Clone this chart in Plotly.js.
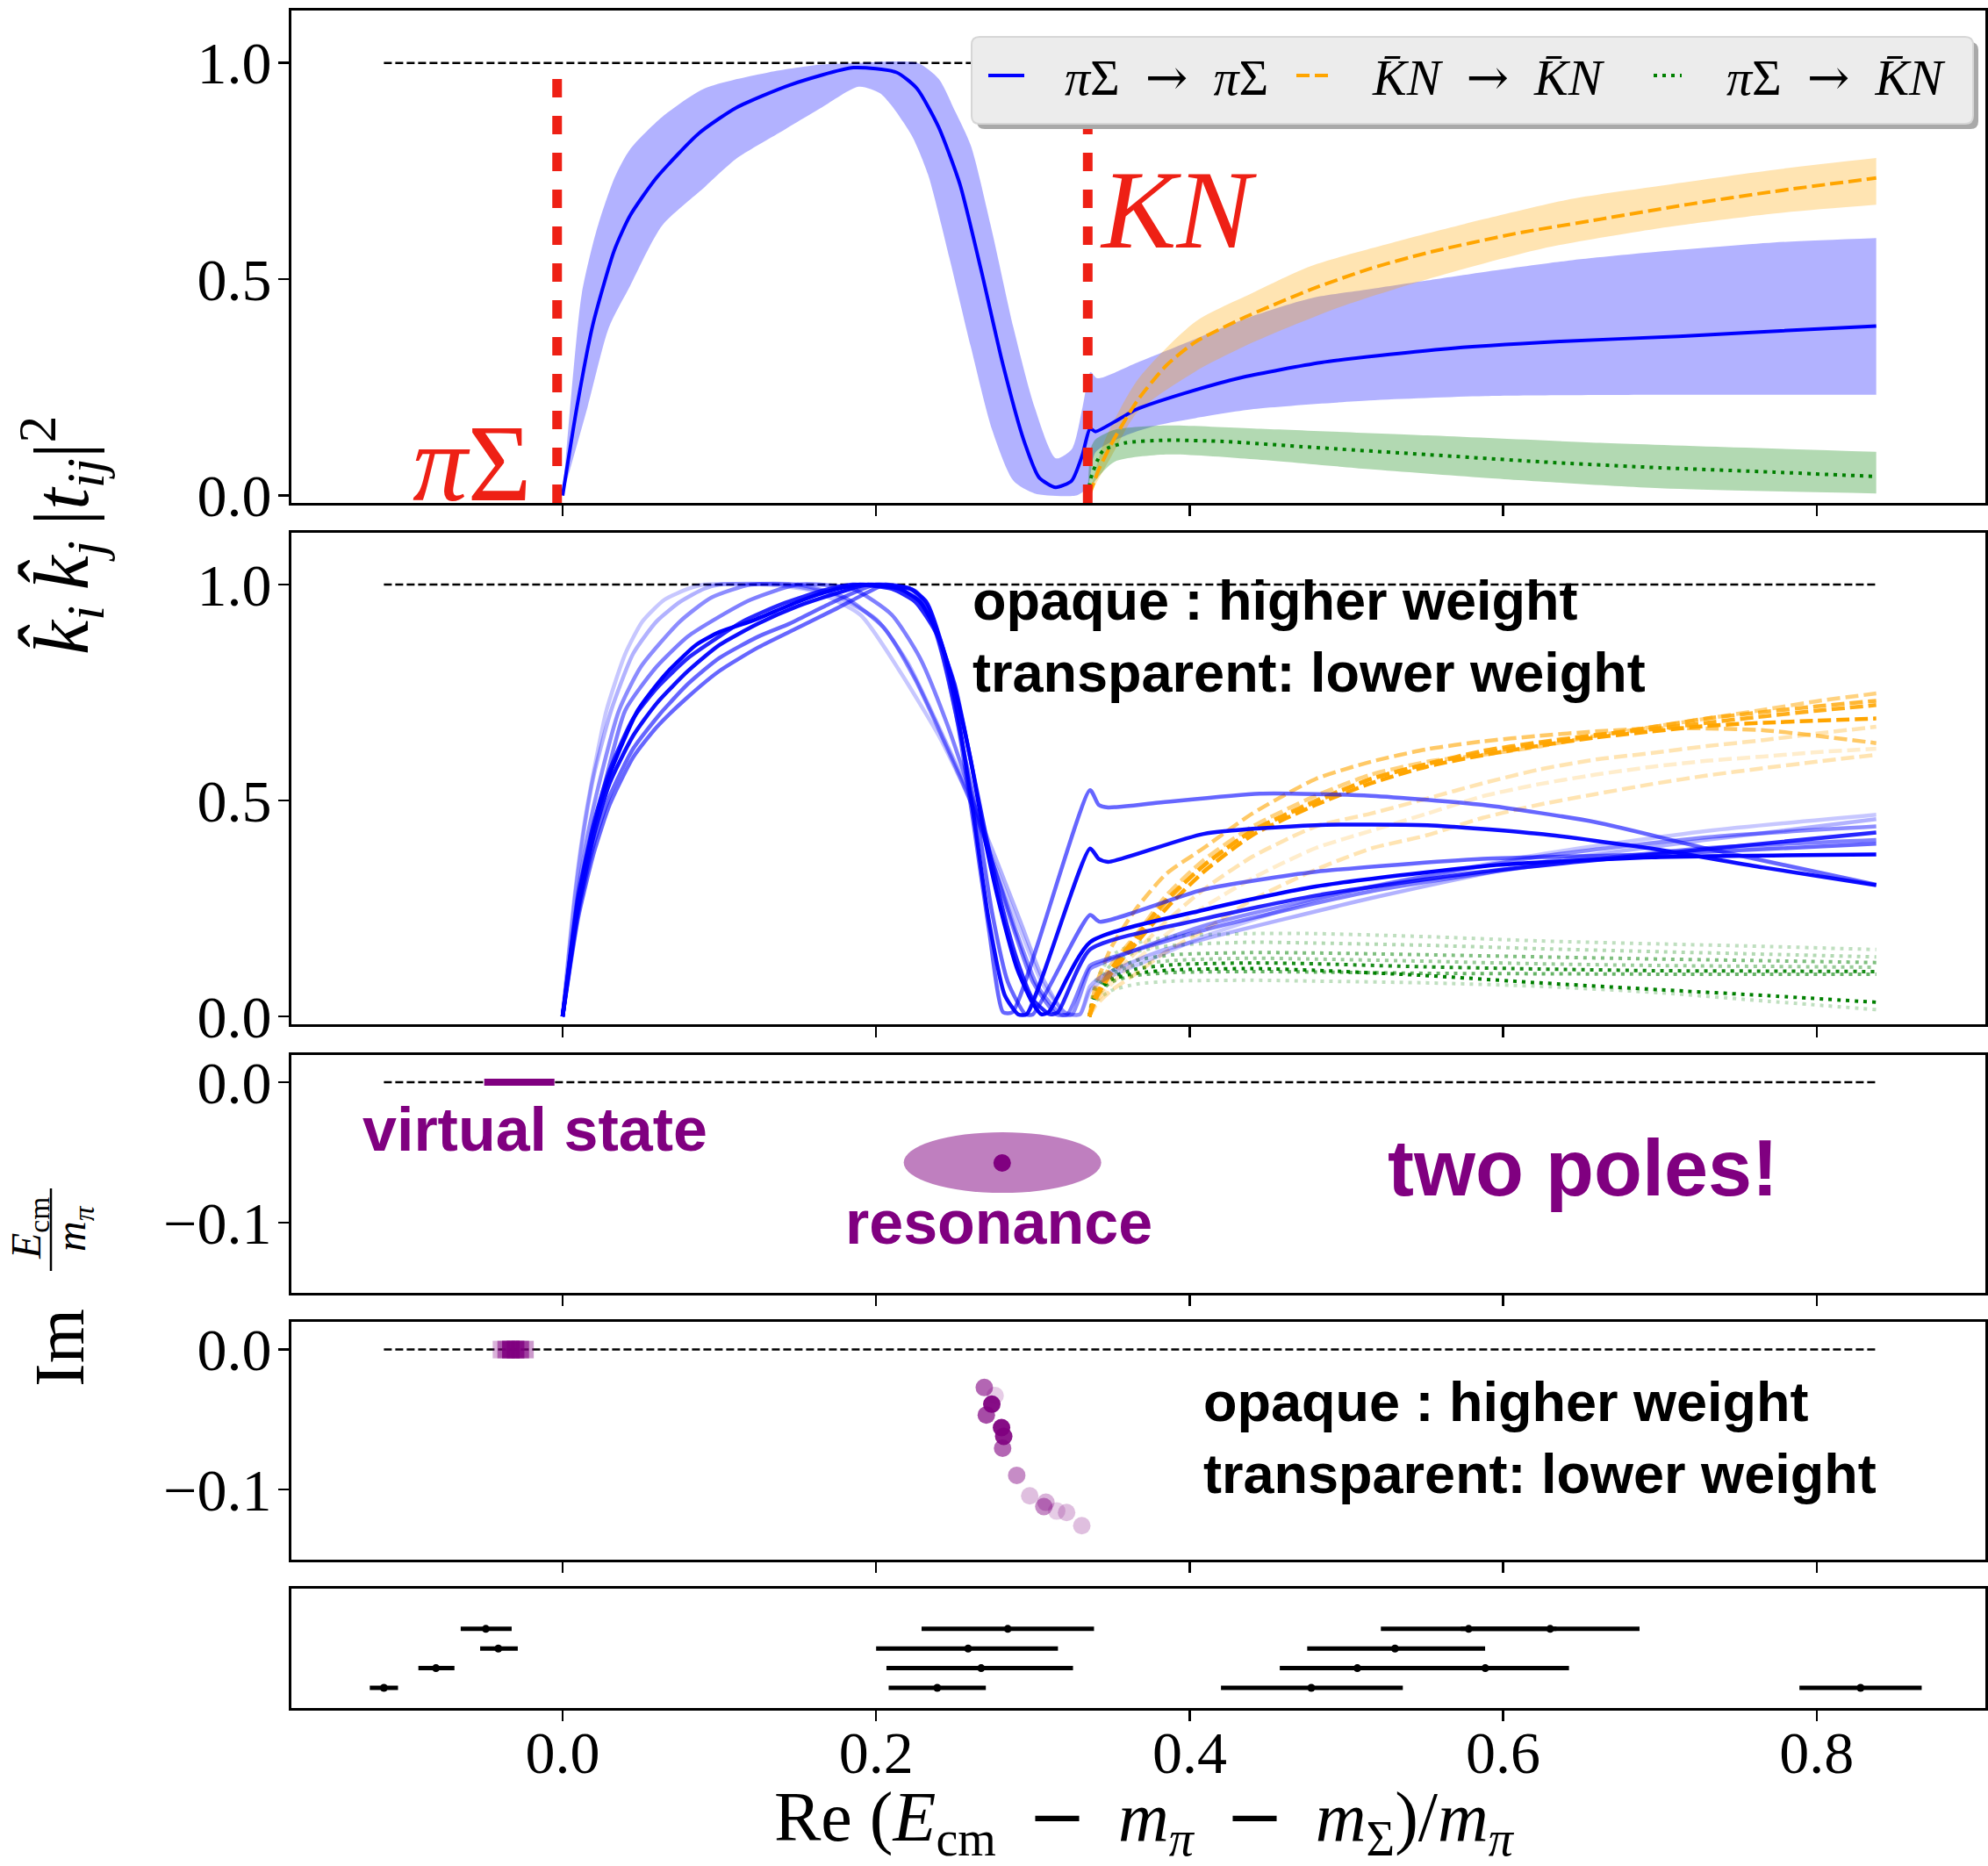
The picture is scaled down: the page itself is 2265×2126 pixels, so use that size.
<!DOCTYPE html>
<html><head><meta charset="utf-8">
<script src="https://cdn.plot.ly/plotly-3.0.1.min.js"></script>
<style>html,body{margin:0;padding:0;background:#fff}</style>
</head><body><div id="chart" style="width:2265px;height:2126px"></div>
<script>
// ---------------- DATA ----------------
const xRange = [-0.17301, 0.90762];
const xTicks = [0, 0.2, 0.4, 0.6, 0.8];
const refX = [-0.114, 0.838];

// Panel 1: central curves
const p1BlueX = [0,0.0091,0.0193,0.0329,0.043,0.060,0.0872,0.111,0.145,0.1856,0.213,0.226,0.2397,0.2534,0.267,0.2806,0.294,0.304,0.3145,0.3247,0.3315,0.3365,0.340,0.366,0.397,0.4345,0.484,0.560,0.636,0.712,0.769,0.838];
const p1BlueY = [0,0.204,0.395,0.566,0.647,0.735,0.838,0.897,0.949,0.989,0.978,0.941,0.853,0.72,0.521,0.307,0.130,0.0416,0.019,0.034,0.093,0.155,0.148,0.199,0.2367,0.274,0.3076,0.338,0.356,0.368,0.379,0.392];
const p1BlueUpX = [0,0.0057,0.0122,0.0214,0.0332,0.043,0.0635,0.0906,0.1314,0.1653,0.19,0.2264,0.240,0.2502,0.2604,0.274,0.2876,0.3011,0.3147,0.3249,0.3317,0.3368,0.341,0.3667,0.4037,0.441,0.4776,0.5146,0.5515,0.5885,0.644,0.70,0.773,0.838];
const p1BlueUpY = [0,0.24,0.466,0.61,0.735,0.80,0.875,0.941,0.978,0.996,1.0,1.0,0.963,0.89,0.809,0.61,0.388,0.204,0.086,0.108,0.204,0.285,0.271,0.3077,0.362,0.416,0.4564,0.4767,0.497,0.517,0.544,0.564,0.585,0.595];
const p1BlueLoX = [0,0.0159,0.0295,0.043,0.0635,0.0906,0.111,0.138,0.1653,0.189,0.2025,0.2093,0.2229,0.2331,0.2467,0.2604,0.274,0.2876,0.3011,0.3283,0.335,0.34,0.36,0.38,0.4037,0.441,0.5146,0.5885,0.70,0.838];
const p1BlueLoY = [0,0.204,0.388,0.484,0.624,0.713,0.779,0.838,0.897,0.945,0.930,0.904,0.831,0.742,0.55,0.344,0.152,0.034,0.005,0.001,0.02,0.10,0.14,0.163,0.179,0.20,0.2197,0.2299,0.233,0.233];

const p1OrangeX = [0.336,0.342,0.352,0.3667,0.3852,0.4037,0.4333,0.4776,0.5146,0.5515,0.607,0.6624,0.718,0.773,0.838];
const p1OrangeY = [0,0.06,0.132,0.2197,0.301,0.355,0.409,0.4767,0.524,0.561,0.605,0.639,0.673,0.703,0.734];
const p1OrangeUpX = [0.336,0.345,0.3667,0.4037,0.441,0.4776,0.533,0.588,0.644,0.70,0.773,0.838];
const p1OrangeUpY = [0,0.12,0.267,0.402,0.47,0.5307,0.588,0.639,0.686,0.716,0.753,0.780];
const p1OrangeLoX = [0.336,0.35,0.3667,0.4037,0.441,0.496,0.5515,0.625,0.70,0.773,0.838];
const p1OrangeLoY = [0,0.09,0.193,0.287,0.355,0.436,0.50,0.571,0.618,0.652,0.672];

const p1GreenX = [0.335,0.337,0.341,0.345,0.359,0.385,0.422,0.4776,0.5515,0.625,0.70,0.773,0.838];
const p1GreenY = [0,0.04,0.08,0.105,0.122,0.128,0.125,0.1116,0.0947,0.0778,0.0643,0.0541,0.044];
const p1GreenUpX = [0.335,0.337,0.34,0.352,0.385,0.441,0.5515,0.662,0.838];
const p1GreenUpY = [0,0.11,0.13,0.152,0.162,0.155,0.139,0.122,0.101];
const p1GreenLoX = [0.335,0.34,0.352,0.385,0.441,0.5146,0.5885,0.70,0.838];
const p1GreenLoY = [0,0.035,0.078,0.095,0.084,0.061,0.041,0.017,0.005];

// Panel 2: individual fits (weight -> opacity)
const p2BlueAlpha = [0.22, 0.3, 0.45, 0.5, 0.6, 0.6, 0.85, 0.95, 1.0];
const p2BlueXs = [
 [0,0.004,0.008,0.014,0.02,0.028,0.04,0.051,0.065,0.08,0.09,0.13,0.16,0.19,0.215,0.24,0.26,0.277,0.292,0.307,0.322,0.33,0.3365,0.345,0.38,0.4089,0.4804,0.5157,0.623,0.73,0.838],
 [0,0.004,0.008,0.014,0.02,0.031,0.045,0.06,0.075,0.09,0.10,0.14,0.17,0.20,0.22,0.24,0.26,0.277,0.292,0.306,0.32,0.33,0.3365,0.345,0.38,0.4089,0.5157,0.623,0.73,0.838],
 [0,0.005,0.01,0.016,0.024,0.036,0.05,0.075,0.095,0.12,0.15,0.18,0.205,0.225,0.243,0.26,0.275,0.29,0.303,0.318,0.325,0.3365,0.345,0.4089,0.5157,0.623,0.73,0.838],
 [0,0.005,0.01,0.018,0.027,0.04,0.06,0.08,0.095,0.12,0.15,0.185,0.21,0.228,0.245,0.26,0.274,0.288,0.30,0.315,0.322,0.3365,0.345,0.4089,0.5157,0.623,0.73,0.838],
 [0,0.005,0.01,0.02,0.03,0.045,0.06,0.08,0.10,0.125,0.15,0.175,0.195,0.206,0.222,0.232,0.242,0.252,0.262,0.272,0.281,0.287,0.3365,0.342,0.348,0.38,0.4446,0.5157,0.587,0.659,0.73,0.838],
 [0,0.005,0.01,0.02,0.03,0.045,0.062,0.08,0.10,0.125,0.145,0.17,0.20,0.225,0.235,0.245,0.255,0.264,0.274,0.284,0.2953,0.30,0.3365,0.3427,0.4089,0.4804,0.587,0.6946,0.838],
 [0,0.005,0.01,0.02,0.03,0.045,0.06,0.08,0.10,0.115,0.14,0.165,0.185,0.21,0.225,0.238,0.25,0.26,0.27,0.28,0.29,0.30,0.311,0.316,0.3365,0.4089,0.4804,0.587,0.6946,0.838],
 [0,0.005,0.01,0.02,0.03,0.045,0.06,0.08,0.10,0.125,0.15,0.175,0.195,0.222,0.232,0.242,0.252,0.262,0.272,0.282,0.2906,0.296,0.3365,0.342,0.348,0.4089,0.4804,0.5517,0.623,0.6946,0.766,0.838],
 [0,0.005,0.01,0.02,0.03,0.048,0.065,0.085,0.10,0.12,0.15,0.17,0.19,0.215,0.228,0.24,0.25,0.26,0.27,0.28,0.29,0.30,0.3055,0.31,0.3365,0.4089,0.4804,0.587,0.6946,0.838]
];
const p2BlueYs = [
 [0,0.15,0.29,0.45,0.57,0.709,0.84,0.915,0.965,0.99,1.0,1.0,0.985,0.93,0.80,0.65,0.50,0.34,0.20,0.07,0.005,0.005,0.06,0.085,0.14,0.185,0.27,0.301,0.375,0.4295,0.467],
 [0,0.145,0.28,0.44,0.56,0.709,0.84,0.915,0.96,0.99,1.0,1.0,0.98,0.92,0.82,0.67,0.51,0.36,0.22,0.09,0.01,0.005,0.07,0.095,0.15,0.179,0.274,0.356,0.409,0.457],
 [0,0.15,0.29,0.42,0.55,0.709,0.81,0.915,0.97,1.0,1.0,0.97,0.90,0.78,0.64,0.50,0.35,0.19,0.07,0.005,0.005,0.11,0.125,0.21,0.30,0.37,0.415,0.44],
 [0,0.14,0.27,0.41,0.54,0.709,0.81,0.88,0.915,0.965,1.0,0.99,0.93,0.83,0.68,0.52,0.36,0.20,0.08,0.005,0.005,0.118,0.13,0.20,0.29,0.35,0.39,0.409],
 [0,0.12,0.23,0.38,0.49,0.60,0.67,0.74,0.80,0.855,0.90,0.945,0.983,1.0,0.99,0.95,0.84,0.68,0.45,0.2,0.01,0.01,0.524,0.49,0.484,0.495,0.516,0.511,0.49,0.45,0.389,0.305],
 [0,0.125,0.24,0.40,0.51,0.62,0.70,0.77,0.83,0.88,0.91,0.955,1.0,0.985,0.93,0.80,0.63,0.47,0.24,0.08,0.005,0.005,0.235,0.2195,0.294,0.335,0.365,0.375,0.40],
 [0,0.145,0.28,0.45,0.57,0.69,0.76,0.83,0.88,0.915,0.955,0.985,1.0,0.99,0.96,0.89,0.77,0.60,0.42,0.26,0.13,0.04,0.005,0.01,0.155,0.226,0.28,0.335,0.375,0.426],
 [0,0.13,0.25,0.42,0.54,0.65,0.725,0.80,0.86,0.91,0.95,0.98,1.0,0.99,0.96,0.86,0.70,0.47,0.22,0.05,0.005,0.005,0.389,0.365,0.358,0.4228,0.443,0.443,0.423,0.389,0.345,0.304],
 [0,0.14,0.27,0.44,0.56,0.709,0.79,0.86,0.89,0.915,0.96,0.985,1.0,0.99,0.96,0.88,0.76,0.60,0.40,0.24,0.11,0.03,0.005,0.01,0.172,0.2466,0.301,0.348,0.3685,0.375]
];
const p2OrangeX = [0.336,0.34,0.35,0.366,0.385,0.4089,0.44,0.4804,0.5157,0.5517,0.587,0.623,0.659,0.6946,0.73,0.766,0.80,0.838];
const p2OrangeAlpha = [0.2, 0.3, 0.3, 0.5, 0.6, 0.8, 0.9, 1.0];
const p2OrangeYs = [
 [0,0.03,0.075,0.13,0.19,0.253,0.32,0.39,0.43,0.47,0.51,0.538,0.56,0.578,0.592,0.602,0.612,0.62],
 [0,0.025,0.06,0.10,0.15,0.199,0.27,0.34,0.389,0.42,0.46,0.4905,0.515,0.538,0.558,0.575,0.59,0.606],
 [0,0.035,0.09,0.15,0.22,0.294,0.37,0.44,0.47,0.505,0.54,0.572,0.595,0.61,0.626,0.64,0.655,0.671],
 [0,0.05,0.12,0.19,0.28,0.362,0.44,0.511,0.56,0.59,0.606,0.625,0.65,0.67,0.69,0.71,0.73,0.748],
 [0,0.07,0.16,0.25,0.33,0.39,0.47,0.55,0.59,0.619,0.637,0.65,0.66,0.667,0.667,0.663,0.65,0.633],
 [0,0.045,0.11,0.18,0.265,0.35,0.43,0.50,0.55,0.585,0.61,0.632,0.65,0.67,0.69,0.705,0.718,0.731],
 [0,0.045,0.11,0.185,0.27,0.349,0.43,0.497,0.55,0.585,0.615,0.635,0.652,0.665,0.68,0.695,0.708,0.721],
 [0,0.04,0.10,0.17,0.25,0.335,0.42,0.49,0.54,0.579,0.605,0.627,0.646,0.66,0.673,0.68,0.685,0.69]
];
const p2GreenX = [0.336,0.34,0.35,0.366,0.39,0.44,0.48,0.55,0.623,0.70,0.77,0.838];
const p2GreenAlpha = [0.25, 0.3, 0.25, 0.4, 0.5, 0.6, 0.9, 1.0];
const p2GreenYs = [
 [0,0.08,0.14,0.17,0.186,0.192,0.192,0.185,0.175,0.168,0.162,0.155],
 [0,0.07,0.12,0.15,0.165,0.172,0.17,0.165,0.157,0.15,0.144,0.138],
 [0,0.035,0.06,0.075,0.082,0.084,0.082,0.078,0.07,0.055,0.035,0.016],
 [0,0.055,0.098,0.12,0.13,0.135,0.133,0.128,0.122,0.118,0.116,0.114],
 [0,0.06,0.105,0.13,0.143,0.148,0.147,0.143,0.138,0.133,0.129,0.125],
 [0,0.045,0.08,0.095,0.102,0.104,0.103,0.1,0.099,0.098,0.098,0.0976],
 [0,0.05,0.09,0.11,0.12,0.124,0.122,0.115,0.11,0.106,0.105,0.104],
 [0,0.05,0.085,0.10,0.108,0.111,0.107,0.095,0.078,0.062,0.048,0.033]
];

// Panel 3: pole summary
const vsBarX = [-0.050, -0.0052];
const vsBarY = [0, 0];
const resCenter = [0.2804, -0.0575];
const resEllipseX = [0.2176, 0.3436];
const resEllipseY = [-0.0788, -0.0356];

// Panel 4: individual poles
const vsPoleX = [-0.039, -0.036, -0.033, -0.030, -0.027, -0.024];
const vsPoleY = [0, 0, 0, 0, 0, 0];
const vsPoleAlpha = [0.3, 0.5, 0.9, 0.8, 0.6, 0.4];
const resPoleX = [0.269, 0.2759, 0.2738, 0.2703, 0.280, 0.2814, 0.2807, 0.2897, 0.298, 0.3083, 0.307, 0.3152, 0.3215, 0.3312];
const resPoleY = [-0.0271, -0.0328, -0.039, -0.0467, -0.0557, -0.062, -0.0704, -0.0898, -0.1044, -0.109, -0.1121, -0.1153, -0.1163, -0.1257];
const resPoleAlpha = [0.6, 0.2, 0.95, 0.7, 0.95, 0.9, 0.6, 0.45, 0.25, 0.3, 0.45, 0.2, 0.25, 0.25];

// Panel 5: energy levels with error bars
const lvlX  = [-0.049, 0.284, 0.578, 0.630, -0.041, 0.2587, 0.531, -0.0808, 0.267, 0.507, 0.5886, -0.114, 0.239, 0.4776, 0.828];
const lvlLo = [-0.065, 0.229, 0.522, 0.573, -0.0526, 0.200, 0.475, -0.092, 0.2066, 0.4575, 0.535, -0.123, 0.208, 0.420, 0.789];
const lvlHi = [-0.0325, 0.339, 0.634, 0.687, -0.0286, 0.316, 0.5885, -0.069, 0.3256, 0.557, 0.642, -0.105, 0.270, 0.536, 0.867];
const lvlRow = [3, 3, 3, 3, 2, 2, 2, 1, 1, 1, 1, 0, 0, 0, 0];

// Legend labels
const legendLabels = ['<i>π</i>Σ → <i>π</i>Σ', '<i>K̄N</i> → <i>K̄N</i>', '<i>π</i>Σ → <i>K̄N</i>'];

// ---------------- LAYOUT GEOMETRY ----------------
const W = 2265, H = 2126, ML = 332, MR = 3, MT = 12, MB = 180;
const PW = W - ML - MR, PH = H - MT - MB;
const px = v => (v - ML) / PW;
const py = v => (H - MB - v) / PH;

const BLUE = '#0000ff', ORANGE = '#ffa500', GREEN = '#008000', PURPLE = '#800080', RED = '#ee2015';
const rgba = (hex, a) => {
  const n = parseInt(hex.slice(1), 16);
  return `rgba(${(n >> 16) & 255},${(n >> 8) & 255},${n & 255},${a})`;
};
const SERIF = 'Liberation Serif, DejaVu Serif, serif';
const SANS = 'Liberation Sans, Arial, sans-serif';

const traces = [];
function band(xa, ya, upX, upY, loX, loY, color) {
  traces.push({x: loX, y: loY, xaxis: xa, yaxis: ya, mode: 'lines',
    line: {width: 0, shape: 'spline', smoothing: 0.7}, hoverinfo: 'skip', showlegend: false});
  traces.push({x: upX, y: upY, xaxis: xa, yaxis: ya, mode: 'lines', fill: 'tonexty', fillcolor: rgba(color, 0.3),
    line: {width: 0, shape: 'spline', smoothing: 0.7}, hoverinfo: 'skip', showlegend: false});
}
function curve(xa, ya, x, y, color, width, dash, extra) {
  traces.push(Object.assign({x, y, xaxis: xa, yaxis: ya, mode: 'lines',
    line: {color, width, dash: dash || 'solid', shape: 'spline', smoothing: 0.6},
    hoverinfo: 'skip', showlegend: false}, extra || {}));
}
const DASH = '15px,6px', DOT = '4px,6px', REFDASH = '9px,4px';

// panel 1
curve('x', 'y', refX, [1, 1], 'black', 2.5, REFDASH);
band('x', 'y', p1BlueUpX, p1BlueUpY, p1BlueLoX, p1BlueLoY, BLUE);
band('x', 'y', p1OrangeUpX, p1OrangeUpY, p1OrangeLoX, p1OrangeLoY, ORANGE);
band('x', 'y', p1GreenUpX, p1GreenUpY, p1GreenLoX, p1GreenLoY, GREEN);
curve('x', 'y', p1BlueX, p1BlueY, BLUE, 4, 'solid', {name: legendLabels[0]});
curve('x', 'y', p1OrangeX, p1OrangeY, ORANGE, 4, DASH, {name: legendLabels[1]});
curve('x', 'y', p1GreenX, p1GreenY, GREEN, 4, DOT, {name: legendLabels[2]});

// panel 2
curve('x2', 'y2', refX, [1, 1], 'black', 2.5, REFDASH);
p2GreenYs.forEach((y, i) => curve('x2', 'y2', p2GreenX, y, rgba(GREEN, p2GreenAlpha[i]), 4, DOT));
p2OrangeYs.forEach((y, i) => curve('x2', 'y2', p2OrangeX, y, rgba(ORANGE, p2OrangeAlpha[i]), 4.5, DASH));
p2BlueYs.forEach((y, i) => curve('x2', 'y2', p2BlueXs[i], y, rgba(BLUE, p2BlueAlpha[i]), 4.5));

// panel 3
curve('x3', 'y3', refX, [0, 0], 'black', 2.5, REFDASH);
curve('x3', 'y3', vsBarX, vsBarY, PURPLE, 8);
traces.push({x: [resCenter[0]], y: [resCenter[1]], xaxis: 'x3', yaxis: 'y3', mode: 'markers',
  marker: {color: PURPLE, size: 20}, hoverinfo: 'skip', showlegend: false});

// panel 4
curve('x4', 'y4', refX, [0, 0], 'black', 2.5, REFDASH);
traces.push({x: vsPoleX, y: vsPoleY, xaxis: 'x4', yaxis: 'y4', mode: 'markers',
  marker: {symbol: 'square', color: PURPLE, size: 20, opacity: vsPoleAlpha}, hoverinfo: 'skip', showlegend: false});
traces.push({x: resPoleX, y: resPoleY, xaxis: 'x4', yaxis: 'y4', mode: 'markers',
  marker: {color: PURPLE, size: 20, opacity: resPoleAlpha}, hoverinfo: 'skip', showlegend: false});

// panel 5
traces.push({x: lvlX, y: lvlRow, xaxis: 'x5', yaxis: 'y5', mode: 'markers',
  marker: {color: 'black', size: 9},
  error_x: {type: 'data', symmetric: false, array: lvlHi.map((h, i) => h - lvlX[i]),
            arrayminus: lvlX.map((v, i) => v - lvlLo[i]), thickness: 5, width: 0, color: 'black'},
  hoverinfo: 'skip', showlegend: false});

// ---------------- AXES ----------------
const axBase = {showline: true, mirror: true, linecolor: 'black', linewidth: 3, ticks: 'outside',
  ticklen: 12, tickwidth: 2.5, tickcolor: 'black', showgrid: false, zeroline: false,
  tickfont: {family: SERIF, size: 68, color: 'black'}};
const doms = [[573, 12], [1167, 607], [1473, 1202], [1777, 1506], [1946, 1810]].map(d => [py(d[0]), py(d[1])]);
const yRanges = [[-0.017, 1.121], [-0.018, 1.12], [-0.15, 0.0194], [-0.15, 0.0198], [-1.03, 5.05]];
const layout = {width: W, height: H, margin: {l: ML, r: MR, t: MT, b: MB}, paper_bgcolor: 'white',
  plot_bgcolor: 'white', showlegend: false, font: {family: SERIF, color: 'black'},
  shapes: [], annotations: []};
for (let i = 0; i < 5; i++) {
  const s = i === 0 ? '' : String(i + 1);
  layout['xaxis' + s] = Object.assign({}, axBase, {range: xRange, tickvals: xTicks, tickformat: '.1f',
    anchor: 'y' + s, showticklabels: i === 4, domain: [0, 1], ticklabelstandoff: -23});
  const ya = Object.assign({}, axBase, {range: yRanges[i], domain: doms[i], anchor: 'x' + s, tickformat: '.1f',
    ticklabelstandoff: -6});
  if (i < 2) ya.tickvals = [0, 0.5, 1.0];
  else if (i < 4) ya.tickvals = [0, -0.1];
  else { ya.ticks = ''; ya.showticklabels = false; }
  layout['yaxis' + s] = ya;
}

// shapes: thresholds, ellipse
layout.shapes.push({type: 'line', xref: 'x', yref: 'y domain', x0: -0.0035, x1: -0.0035, y0: 0, y1: 0.87,
  line: {color: RED, width: 11, dash: '21px,21px'}, layer: 'above'});
layout.shapes.push({type: 'line', xref: 'x', yref: 'y domain', x0: 0.335, x1: 0.335, y0: 0, y1: 0.87,
  line: {color: RED, width: 11, dash: '21px,21px'}, layer: 'above'});
layout.shapes.push({type: 'circle', xref: 'x3', yref: 'y3', x0: resEllipseX[0], x1: resEllipseX[1],
  y0: resEllipseY[0], y1: resEllipseY[1], fillcolor: rgba(PURPLE, 0.5), line: {width: 0}, layer: 'below'});

// legend box (fancy box with shadow), drawn in pixel positions
function rrect(x0, y0, x1, y1, r) {
  const P = (x, y) => `${px(x)},${py(y)}`;
  return `M${P(x0 + r, y0)} L${P(x1 - r, y0)} Q${P(x1, y0)} ${P(x1, y0 + r)} L${P(x1, y1 - r)} Q${P(x1, y1)} ${P(x1 - r, y1)} ` +
         `L${P(x0 + r, y1)} Q${P(x0, y1)} ${P(x0, y1 - r)} L${P(x0, y0 + r)} Q${P(x0, y0)} ${P(x0 + r, y0)} Z`;
}
layout.shapes.push({type: 'path', xref: 'paper', yref: 'paper', path: rrect(1113, 48, 2254, 147, 9),
  fillcolor: '#a9a9a9', line: {width: 0}, layer: 'above'});
layout.shapes.push({type: 'path', xref: 'paper', yref: 'paper', path: rrect(1107, 42, 2248, 141, 9),
  fillcolor: '#ececec', line: {color: '#d6d6d6', width: 2}, layer: 'above'});
const legY = py(86);
const legSamples = [[1126, 1167, BLUE, 'solid'], [1477, 1516, ORANGE, DASH], [1884, 1916, GREEN, DOT]];
legSamples.forEach(s => layout.shapes.push({type: 'line', xref: 'paper', yref: 'paper', x0: px(s[0]), x1: px(s[1]),
  y0: legY, y1: legY, line: {color: s[2], width: 4, dash: s[3]}, layer: 'above'}));

// annotations
const A = layout.annotations;
const ann = o => A.push(Object.assign({showarrow: false, xanchor: 'center', yanchor: 'middle'}, o));
const ARW = t => t.replace(/ → /g, '\u2002<span style="font-family:DejaVu Serif">→</span>\u2002');
[1211, 1561, 1965].forEach((x, i) => ann({text: ARW(legendLabels[i]), xref: 'paper', yref: 'paper',
  x: px(x), y: py(88), xanchor: 'left', font: {family: SERIF, size: 58, color: 'black'}}));

ann({text: '<i>π</i>Σ', xref: 'x', yref: 'y', x: -0.0577, y: 0.075, font: {family: SERIF, size: 125, color: RED}});
ann({text: '<i>KN</i>', xref: 'x', yref: 'y', x: 0.393, y: 0.66, font: {family: SERIF, size: 128, color: RED}});
ann({text: '<b>opaque : higher weight<br>transparent: lower weight</b>', xref: 'x2', yref: 'y2',
  x: 0.2604, y: 0.88, xanchor: 'left', align: 'left', font: {family: SANS, size: 63, color: 'black'}});
ann({text: '<b>opaque : higher weight<br>transparent: lower weight</b>', xref: 'x4', yref: 'y4',
  x: 0.4077, y: -0.0628, xanchor: 'left', align: 'left', font: {family: SANS, size: 63, color: 'black'}});
ann({text: '<b>virtual state</b>', xref: 'x3', yref: 'y3', x: -0.0176, y: -0.0335, font: {family: SANS, size: 70, color: PURPLE}});
ann({text: '<b>resonance</b>', xref: 'x3', yref: 'y3', x: 0.2782, y: -0.1, font: {family: SANS, size: 70, color: PURPLE}});
ann({text: '<b>two poles!</b>', xref: 'x3', yref: 'y3', x: 0.651, y: -0.0612, font: {family: SANS, size: 90, color: PURPLE}});
const MINUS = '<span style="font-family:DejaVu Serif">−</span>';
ann({text: `Re (<i>E</i><sub>cm</sub> \u2009${MINUS}\u2009 <i>m</i><sub><i>π</i></sub> \u2009${MINUS}\u2009 <i>m</i><sub>Σ</sub>)/<i>m</i><sub><i>π</i></sub>`,
  xref: 'paper', yref: 'paper', x: px(1304), y: py(2074), font: {family: SERIF, size: 80, color: 'black'}});
ann({text: '<i>k̂</i><sub><i>i</i></sub>\u2009<i>k̂</i><sub><i>j</i></sub>\u2009|<i>t</i><sub><i>ij</i></sub>|<sup>2</sup>',
  xref: 'paper', yref: 'paper', x: px(70), y: py(610), textangle: -90, font: {family: SERIF, size: 88, color: 'black'}});
ann({text: 'Im', xref: 'paper', yref: 'paper', x: px(68), y: py(1536), textangle: -90,
  font: {family: SERIF, size: 80, color: 'black'}});
ann({text: '<i>E</i><sub>cm</sub>', xref: 'paper', yref: 'paper', x: px(33), y: py(1400), textangle: -90,
  font: {family: SERIF, size: 48, color: 'black'}});
ann({text: '<i>m</i><sub><i>π</i></sub>', xref: 'paper', yref: 'paper', x: px(84), y: py(1400), textangle: -90,
  font: {family: SERIF, size: 48, color: 'black'}});
layout.shapes.push({type: 'line', xref: 'paper', yref: 'paper', x0: px(58), x1: px(58), y0: py(1448), y1: py(1354),
  line: {color: 'black', width: 2.5}});

Plotly.newPlot('chart', traces, layout, {staticPlot: true, displayModeBar: false});
</script></body></html>
